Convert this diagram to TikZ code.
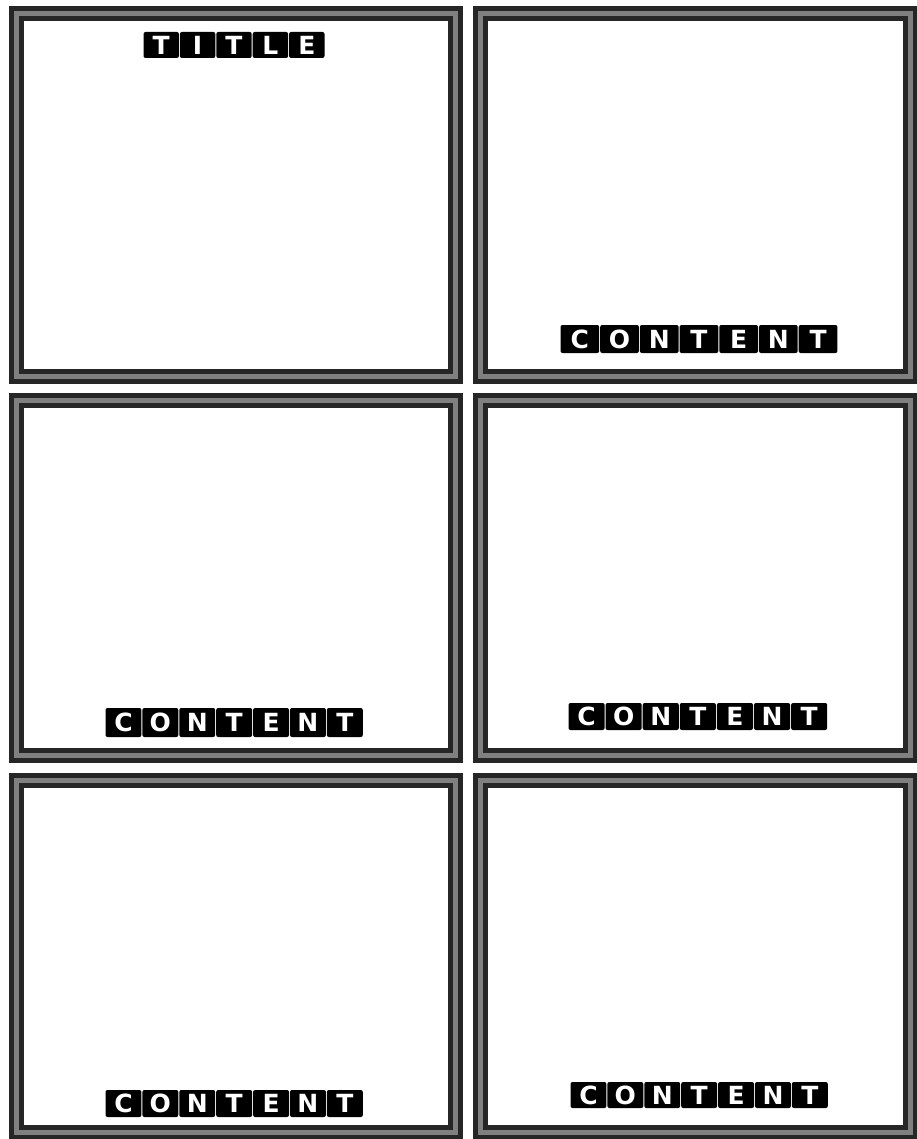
\documentclass[tikz,border=0pt]{standalone}
\usepackage{fontspec}
\newfontfamily\tilefont{DejaVu Sans}
\tikzset{
  frameouter/.style={draw=black!85, line width=15pt},
  framemid/.style={draw=black!50, line width=5pt},
  tile/.style={fill=black, rounded corners=2pt, inner sep=0pt, text=white,
    font=\tilefont\bfseries\fontsize{25}{25}\selectfont},
}
\newcommand\wordtiles[6]{%
  \foreach \L [count=\i] in {#6}
    \node[tile, minimum width={#3pt-1pt}, minimum height=#5pt]
      (#1\i) at ({#2+#3*(\i-0.5)}, #4) {\L};
}
\newcommand\panel[5]{%
  \draw[frameouter] (#2,#3) rectangle (#4,#5);
  \draw[framemid] (#2,#3) rectangle (#4,#5);
  \coordinate (#1) at ({(#2+#4)/2},{(#3+#5)/2});
}
\begin{document}
\begin{tikzpicture}[x=1pt,y=-1pt]
\useasboundingbox[fill=white] (0,0) rectangle (917,1139);
% panels
\panel{p1}{16}{14}{455}{376}
\panel{p2}{480}{14}{910}{376}
\panel{p3}{16}{400}{455}{755}
\panel{p4}{480}{400}{910}{755}
\panel{p5}{16}{780}{455}{1132}
\panel{p6}{480}{780}{910}{1132}
% labels
\wordtiles{ta}{143}{36.4}{45}{26}{T,I,T,L,E}
\wordtiles{cb}{560}{39.7}{339}{28}{C,O,N,T,E,N,T}
\wordtiles{cc}{105}{36.9}{722.5}{29}{C,O,N,T,E,N,T}
\wordtiles{cd}{568}{37.1}{716.5}{27}{C,O,N,T,E,N,T}
\wordtiles{ce}{105}{36.9}{1103.5}{27}{C,O,N,T,E,N,T}
\wordtiles{cf}{570}{36.9}{1095}{26}{C,O,N,T,E,N,T}
\end{tikzpicture}
\end{document}
